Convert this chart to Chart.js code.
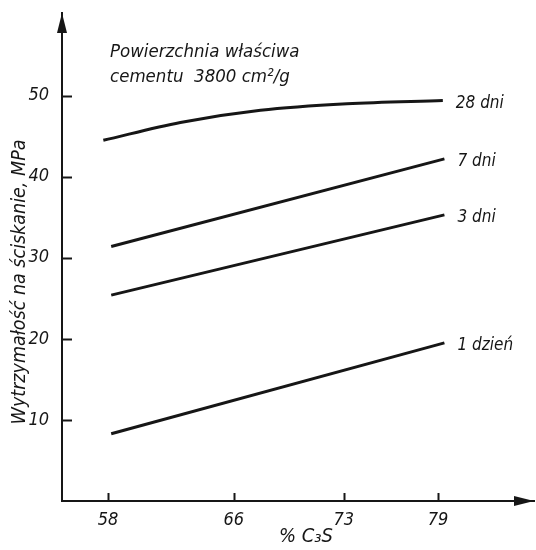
<!DOCTYPE html>
<html lang="pl">
<head>
<meta charset="utf-8">
<title>Wytrzymałość na ściskanie a % C3S</title>
<script src="https://cdn.jsdelivr.net/npm/chart.js@4.4.1/dist/chart.umd.min.js"></script>
<style>
  html, body { margin: 0; padding: 0; background: #ffffff; }
  #wrap { position: relative; width: 536px; height: 550px; }
</style>
</head>
<body>
<div id="wrap"><canvas id="chart" width="536" height="550"></canvas></div>
<script>
// ─── Data ───────────────────────────────────────────────────────────────────
const seriesNames = ['28 dni', '7 dni', '3 dni', '1 dzień'];

// 28 dni is a gentle curve, the rest are straight lines
const c3s28 = [57.7, 62.6, 67.7, 73.2, 79.3];
const mpa28 = [44.5, 46.7, 48.2, 49.0, 49.4];

const c3sLine = [58.2, 79.4];
const mpa7 = [31.4, 42.2];
const mpa3 = [25.4, 35.3];
const mpa1 = [8.3, 19.5];

const xTickValues = [58, 66, 73, 79];
const yTickValues = [10, 20, 30, 40, 50];

const noteLines = ['Powierzchnia właściwa', 'cementu  3800 cm²/g'];
const yTitle = 'Wytrzymałość na ściskanie, MPa';
const xTitle = '% C₃S';

// ─── Style ──────────────────────────────────────────────────────────────────
const INK = '#161616';
const HAND = "'Liberation Sans Narrow', 'DejaVu Sans Condensed', 'Roboto Condensed', sans-serif";

function pairs(xs, ys) {
  return xs.map((x, i) => ({ x, y: ys[i] }));
}

// Axis arrows, inward tick marks, curve labels and the free text
const drawingPlugin = {
  id: 'drawing',
  afterDraw(chart) {
    const { ctx, chartArea: a, scales } = chart;
    const xs = scales.x;
    const ys = scales.y;
    ctx.save();
    ctx.strokeStyle = INK;
    ctx.fillStyle = INK;
    ctx.lineWidth = 2;

    // tick marks pointing into the plot
    yTickValues.forEach((v) => {
      const py = Math.round(ys.getPixelForValue(v)) + 0.5;
      ctx.beginPath();
      ctx.moveTo(a.left, py);
      ctx.lineTo(a.left + 10, py);
      ctx.stroke();
    });
    xTickValues.forEach((v) => {
      const px = Math.round(xs.getPixelForValue(v)) + 0.5;
      ctx.beginPath();
      ctx.moveTo(px, a.bottom);
      ctx.lineTo(px, a.bottom - 8);
      ctx.stroke();
    });

    // arrow heads
    ctx.beginPath();
    ctx.moveTo(a.left, a.top);
    ctx.lineTo(a.left - 5, a.top + 20);
    ctx.lineTo(a.left + 5, a.top + 20);
    ctx.closePath();
    ctx.fill();
    ctx.beginPath();
    ctx.moveTo(a.right, a.bottom);
    ctx.lineTo(a.right - 20, a.bottom - 5);
    ctx.lineTo(a.right - 20, a.bottom + 5);
    ctx.closePath();
    ctx.fill();

    ctx.textBaseline = 'middle';
    ctx.textAlign = 'left';

    // curve labels next to the last point of every series
    ctx.font = `italic 17px ${HAND}`;
    chart.data.datasets.forEach((ds) => {
      const last = ds.data[ds.data.length - 1];
      const px = xs.getPixelForValue(last.x) + 13;
      const py = ys.getPixelForValue(last.y) + 3;
      ctx.fillText(ds.label, px, py);
    });

    // note in the upper left corner
    ctx.font = `italic 18.5px ${HAND}`;
    ctx.fillText(noteLines[0], 110, 52);
    ctx.fillText(noteLines[1], 110, 77);

    // axis titles
    ctx.textAlign = 'center';
    ctx.font = `italic 20px ${HAND}`;
    ctx.fillText(xTitle, 306, 537);
    ctx.translate(20, 282);
    ctx.rotate(-Math.PI / 2);
    ctx.font = `italic 19.5px ${HAND}`;
    ctx.fillText(yTitle, 0, 0);
    ctx.restore();
  },
};

const lineStyle = {
  borderColor: INK,
  borderWidth: 3,
  pointRadius: 0,
  fill: false,
};

new Chart(document.getElementById('chart'), {
  type: 'line',
  data: {
    datasets: [
      { label: seriesNames[0], data: pairs(c3s28, mpa28), tension: 0.4, cubicInterpolationMode: 'monotone', ...lineStyle },
      { label: seriesNames[1], data: pairs(c3sLine, mpa7), ...lineStyle },
      { label: seriesNames[2], data: pairs(c3sLine, mpa3), ...lineStyle },
      { label: seriesNames[3], data: pairs(c3sLine, mpa1), ...lineStyle },
    ],
  },
  options: {
    responsive: false,
    animation: false,
    layout: { padding: { top: 13, right: 2, left: 0, bottom: 0 } },
    plugins: {
      legend: { display: false },
      tooltip: { enabled: false },
    },
    scales: {
      x: {
        type: 'linear',
        min: 55.07,
        max: 85.1,
        afterFit(scale) {
          scale.height = 49;
          scale.paddingLeft = 0;
          scale.paddingRight = 0;
        },
        afterBuildTicks(scale) { scale.ticks = xTickValues.map((value) => ({ value })); },
        grid: { display: false, drawTicks: false },
        border: { color: INK, width: 2 },
        ticks: {
          color: INK,
          padding: 9,
          maxRotation: 0,
          autoSkip: false,
          font: { family: HAND, size: 18, style: 'italic' },
        },
      },
      y: {
        min: 0,
        max: 60.2,
        afterFit(scale) {
          // labels sit well inside the axis, so drop the overflow padding
          scale.width = 62;
          scale.paddingTop = 0;
          scale.paddingBottom = 0;
        },
        afterBuildTicks(scale) { scale.ticks = yTickValues.map((value) => ({ value })); },
        grid: { display: false, drawTicks: false },
        border: { color: INK, width: 2 },
        ticks: {
          color: INK,
          padding: 13,
          autoSkip: false,
          font: { family: HAND, size: 18, style: 'italic' },
        },
      },
    },
  },
  plugins: [drawingPlugin],
});
</script>
</body>
</html>
